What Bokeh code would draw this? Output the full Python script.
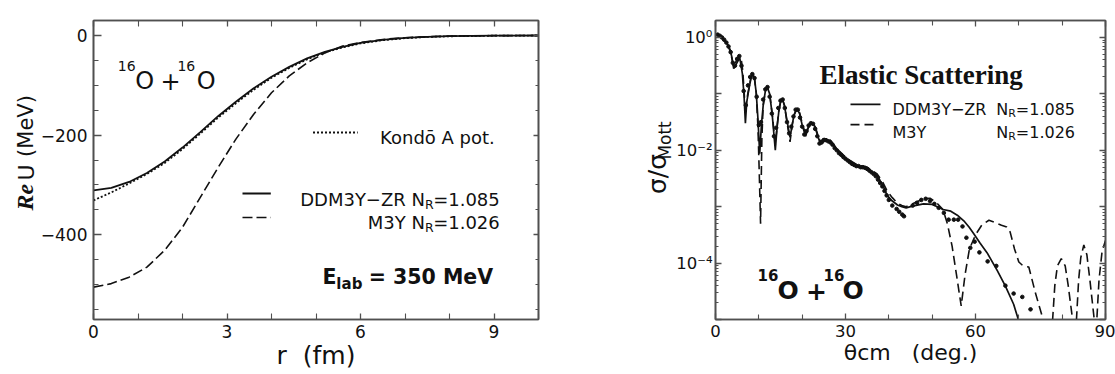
import numpy as np
from bokeh.plotting import figure
from bokeh.models import Range1d, FixedTicker, LinearAxis, LogAxis, Label
from bokeh.layouts import row
from bokeh.embed import file_html
from bokeh.resources import INLINE

# ---------------- left panel: Re U(r) ----------------
r_fm = [0.0, 0.4, 0.8, 1.2, 1.6, 2.0, 2.4, 2.8, 3.2, 3.6, 4.0,
        4.4, 4.8, 5.2, 5.6, 6.0, 6.5, 7.0, 7.5, 8.0, 9.0, 10.0]
reU_ddm3y = [-311, -306, -294, -276, -253, -225, -194, -162, -133, -106, -83,
             -63, -46, -33, -23, -15, -9, -5, -2.8, -1.5, -0.4, -0.1]
reU_m3y = [-505, -498, -485, -465, -431, -385, -325, -265, -208, -158, -115,
           -81, -55, -35, -21, -14, -8, -4.5, -2.5, -1.3, -0.35, -0.1]
reU_kondo = [-331, -315, -297, -278, -256, -228, -197, -165, -136, -109, -85,
             -65, -48, -34, -24, -16, -9.5, -5.5, -3.0, -1.7, -0.5, -0.1]

left_xticks = [0, 3, 6, 9]
left_xminor = [1, 2, 4, 5, 7, 8, 10]
left_yticks = [-400, -200, 0]
left_ylabels = ["\u2212400", "\u2212200", "0"]
left_yminor = [-550, -500, -450, -350, -300, -250, -150, -100, -50]

theta_ddm = [0.3, 0.8, 1.5, 2.2, 2.8, 3.4, 3.8, 4.2, 4.6, 5.0,
             5.6, 6.2, 6.6, 6.9, 7.2, 7.7, 8.2, 8.6, 9.0, 9.4,
             9.8, 10.2, 10.6, 11.0, 11.5, 11.9, 12.5, 13.1, 13.8, 14.2,
             14.6, 15.0, 15.4, 15.9, 16.4, 17.2, 17.7, 18.1, 18.8, 19.4,
             20.0, 20.8, 21.3, 21.7, 22.5, 23.0, 23.5, 24.2, 24.8, 25.4,
             26.5, 28.1, 30.4, 32.7, 35.0, 37.3, 38.5, 39.6, 40.8, 42.0,
             43.0, 44.0, 45.0, 46.0, 48.0, 50.0, 51.2, 52.5, 54.3, 55.8,
             57.3, 58.5, 59.6, 61.0, 62.7, 65.0, 66.9, 68.8, 69.6, 70.3,
             71.0]
log_ddm = [0.05, 0.04, 0.0, -0.06, -0.12, -0.22, -0.36, -0.55, -0.50, -0.44,
           -0.36, -0.64, -1.05, -1.52, -1.15, -0.92, -0.72, -0.64, -0.74, -0.98,
           -1.45, -2.06, -1.55, -1.21, -0.95, -0.87, -1.0, -1.38, -2.0, -1.6,
           -1.32, -1.15, -1.09, -1.2, -1.43, -1.77, -1.55, -1.38, -1.26, -1.35,
           -1.55, -1.75, -1.62, -1.55, -1.52, -1.6, -1.72, -1.89, -1.85, -1.83,
           -1.83, -2.0, -2.17, -2.28, -2.31, -2.46, -2.60, -2.80, -2.90, -2.97,
           -3.0, -3.02, -3.0, -2.98, -2.95, -2.96, -3.0, -3.05, -3.08, -3.15,
           -3.25, -3.36, -3.48, -3.64, -3.82, -4.13, -4.41, -4.73, -4.93, -5.1,
           -5.3]

theta_m3y = [0.3, 0.8, 1.5, 2.2, 2.8, 3.4, 3.8, 4.2, 4.6, 5.0,
             5.4, 5.9, 6.3, 6.6, 6.9, 7.2, 7.7, 8.2, 8.6, 9.0,
             9.4, 9.8, 10.1, 10.4, 10.7, 11.0, 11.5, 11.9, 12.5, 13.1,
             13.8, 14.2, 14.6, 15.0, 15.4, 15.9, 16.4, 17.2, 17.7, 18.1,
             18.8, 19.4, 20.0, 20.8, 21.3, 21.7, 22.5, 23.0, 23.5, 24.2,
             24.8, 25.4, 26.5, 28.1, 30.4, 32.7, 35.0, 37.3, 38.5, 39.6,
             40.8, 42.0, 43.0, 44.0, 46.0, 48.0, 49.5, 51.0, 52.5, 53.5,
             54.6, 55.6, 56.7, 57.6, 58.6, 60.0, 61.5, 63.1, 64.5, 66.0,
             67.2, 68.0, 69.0, 70.0, 71.0, 72.3, 73.8, 75.6, 76.7, 77.8,
             78.3, 78.9, 79.8, 80.7, 81.4, 82.4, 82.85, 83.3, 83.8, 84.3,
             85.0, 85.7, 86.4, 87.4, 87.7, 88.0, 88.5, 89.2, 90.0]
log_m3y = [0.05, 0.04, 0.0, -0.06, -0.13, -0.25, -0.38, -0.52, -0.45, -0.38,
           -0.33, -0.36, -0.60, -0.95, -1.35, -1.10, -0.90, -0.70, -0.63, -0.72,
           -0.98, -1.60, -2.40, -3.30, -1.80, -1.20, -0.95, -0.86, -1.0, -1.36,
           -1.90, -1.58, -1.30, -1.14, -1.08, -1.20, -1.45, -1.85, -1.55, -1.38,
           -1.25, -1.33, -1.52, -1.72, -1.62, -1.54, -1.50, -1.58, -1.70, -1.85,
           -1.80, -1.78, -1.82, -1.98, -2.15, -2.26, -2.30, -2.42, -2.55, -2.72,
           -2.84, -2.94, -2.98, -3.00, -2.93, -2.86, -2.85, -2.93, -3.05, -3.30,
           -3.70, -4.20, -4.76, -4.20, -3.75, -3.50, -3.32, -3.24, -3.28, -3.33,
           -3.36, -3.45, -3.75, -3.98, -4.05, -4.07, -4.52, -5.0, -6.0, -5.0,
           -4.4, -4.05, -3.92, -4.05, -4.4, -5.0, -6.0, -5.0, -4.3, -3.9,
           -3.68, -3.85, -4.3, -5.0, -6.0, -5.0, -4.3, -3.8, -3.6]

theta_exp = [0.5, 1.0, 1.5, 2.0, 2.5, 3.0, 3.5, 4.0, 4.5, 5.0,
             5.5, 6.0, 6.5, 7.0, 7.5, 8.0, 8.5, 9.0, 9.5, 10.0,
             10.5, 11.0, 11.5, 12.0, 12.5, 13.0, 13.5, 14.0, 14.5, 15.0,
             15.5, 16.0, 16.5, 17.0, 17.5, 18.0, 18.5, 19.0, 19.5, 20.0,
             20.5, 21.0, 21.5, 22.0, 22.5, 23.0, 23.5, 24.0, 24.5, 25.0,
             25.5, 26.0, 26.5, 27.0, 27.5, 28.0, 28.5, 29.0, 29.5, 30.0,
             30.5, 31.0, 31.5, 32.0, 32.5, 33.0, 33.5, 34.0, 34.5, 35.0,
             35.5, 36.0, 36.5, 37.0, 37.5, 38.0, 38.5, 39.0, 39.5, 40.0,
             40.8, 41.8, 42.4, 43.1, 43.5,
             45.5, 46.5, 47.5, 48.5, 49.5, 50.5, 51.5,
             52.7, 53.8, 55.0, 56.0, 57.0, 57.9, 58.8, 59.8, 60.9, 62.8,
             64.8, 66.9, 68.8, 70.8, 72.7]
log_exp = [0.05, 0.03, 0.0, -0.04, -0.09, -0.16, -0.26, -0.45, -0.50, -0.38,
           -0.33, -0.50, -0.95, -1.20, -0.85, -0.70, -0.65, -0.72, -1.05, -1.55,
           -1.50, -1.10, -0.92, -0.88, -1.05, -1.35, -1.75, -1.60, -1.25, -1.12,
           -1.10, -1.25, -1.50, -1.70, -1.58, -1.40, -1.28, -1.28, -1.42, -1.58,
           -1.72, -1.66, -1.56, -1.52, -1.53, -1.62, -1.75, -1.88, -1.86, -1.82,
           -1.82, -1.84, -1.86, -1.90, -1.96, -2.00, -2.05, -2.08, -2.12, -2.15,
           -2.18, -2.21, -2.24, -2.26, -2.28, -2.28, -2.30, -2.30, -2.31, -2.33,
           -2.36, -2.39, -2.42, -2.46, -2.52, -2.58, -2.64, -2.72, -2.80, -2.88,
           -2.98, -3.04, -3.09, -3.14, -3.17,
           -2.98, -2.93, -2.88, -2.86, -2.90, -2.95, -3.02,
           -3.11, -3.23, -3.23, -3.23, -3.35, -3.55, -3.73, -3.62, -3.81, -3.97,
           -4.05, -4.40, -4.54, -4.60, -4.82]

right_xticks = [0, 30, 60, 90]
right_xminor = [10, 20, 40, 50, 70, 80]
right_yticks = [1.0, 0.1, 0.01, 0.001, 0.0001, 1e-05]
right_ylabels = ["10\u2070", "", "10\u207b\u00b2", "", "10\u207b\u2074", ""]

SANS = "DejaVu Sans"
SERIF = "Liberation Serif"
FRAME = "#505050"
INK = "#111111"
NB = "\u00a0"

# DejaVu Sans advance widths (em)
W = {" ": .318, "(": .390, ")": .390, "+": .838, "\u2212": .838, ".": .318, "/": .337,
     "=": .838, "A": .684, "D": .770, "K": .656, "M": .863, "N": .748, "O": .787,
     "R": .695, "U": .732, "V": .684, "Y": .611, "Z": .685, "a": .613, "d": .635,
     "e": .615, "n": .634, "o": .612, "\u014d": .612, "p": .635, "t": .392,
     "\u03c3": .635, "\u03b8": .612, "c": .550, "m": .974, "g": .635, "f": .352, "r": .411}
for ch in "0123456789":
    W[ch] = .636


def tw(s, size):
    return sum(W.get(c, .62) for c in s) * size


def style_axis(ax, ticks, minor, labels=True, font_size="17px", tin=7, min_in=4, standoff=6):
    ax.ticker = FixedTicker(ticks=ticks, minor_ticks=minor)
    ax.axis_line_color = FRAME
    ax.axis_line_width = 1.6
    ax.major_tick_line_color = FRAME
    ax.minor_tick_line_color = FRAME
    ax.major_tick_line_width = 1.3
    ax.minor_tick_line_width = 1.1
    ax.major_tick_in = tin
    ax.major_tick_out = 0
    ax.minor_tick_in = min_in
    ax.minor_tick_out = 0
    ax.axis_label = None
    if labels:
        ax.major_label_text_font = SANS
        ax.major_label_text_font_size = font_size
        ax.major_label_text_color = INK
        ax.major_label_standoff = standoff
    else:
        ax.major_label_text_font_size = "1px"
        ax.major_label_text_color = None
        ax.major_label_standoff = 0


def set_title(ax, text, size):
    ax.axis_label = text
    ax.axis_label_text_font = SANS
    ax.axis_label_text_font_size = f"{size}px"
    ax.axis_label_text_font_style = "normal"
    ax.axis_label_text_color = INK
    ax.axis_label_standoff = 0


def base_fig(**kw):
    p = figure(output_backend="svg", toolbar_location=None, **kw)
    p.xgrid.visible = False
    p.ygrid.visible = False
    p.outline_line_color = FRAME
    p.outline_line_width = 1.6
    p.background_fill_color = "white"
    p.border_fill_color = "white"
    return p


def text_fig(w, h, x0, x1, y0, y1):
    # plain drawing strip for the rotated y titles; data units are page pixels (y upwards)
    p = figure(width=w, height=h, x_range=Range1d(x0, x1), y_range=Range1d(y0, y1),
               output_backend="svg", toolbar_location=None, title=None,
               x_axis_location=None, y_axis_location=None,
               min_border=0, min_border_left=0, min_border_right=0,
               min_border_top=0, min_border_bottom=0)
    p.xgrid.visible = False
    p.ygrid.visible = False
    p.outline_line_color = None
    p.background_fill_color = "white"
    p.border_fill_color = "white"
    return p


def lab(p, pos, text, size, font=SANS, style="normal", align="left", angle=0.0,
        baseline="alphabetic"):
    x, y = pos
    p.add_layout(Label(x=x, y=y, text=text, text_font=font, text_font_size=f"{size}px",
                       text_font_style=style, text_align=align, text_baseline=baseline,
                       angle=angle, text_color=INK))


ang = np.pi / 2
H = 374

# ============ LEFT PANEL ============
YT1_W = 37
L_LEFT, L_TOP, L_W, L_H = 90, 20, 448, 299
p1 = base_fig(width=560 - YT1_W, height=H, x_range=Range1d(0, 10), y_range=Range1d(-570, 30),
              min_border_left=L_LEFT - YT1_W, min_border_right=560 - L_LEFT - L_W,
              min_border_top=L_TOP, min_border_bottom=H - L_TOP - L_H)


def d1(px, py):
    return ((px - L_LEFT) / L_W * 10.0, 30.0 - (py - L_TOP) / L_H * 600.0)


style_axis(p1.xaxis[0], left_xticks, left_xminor, tin=6, min_in=6, standoff=5)
set_title(p1.xaxis[0], "r" + NB + NB + "(fm)", 25)
style_axis(p1.yaxis[0], left_yticks, left_yminor, tin=8, min_in=5, standoff=6)
p1.yaxis[0].major_label_overrides = {t: s for t, s in zip(left_yticks, left_ylabels)}
top1 = LinearAxis()
style_axis(top1, left_xticks, left_xminor, labels=False, tin=6, min_in=6)
p1.add_layout(top1, "above")
right1 = LinearAxis()
style_axis(right1, left_yticks, left_yminor, labels=False, tin=5, min_in=3)
p1.add_layout(right1, "right")

p1.line(r_fm, reU_kondo, line_color=INK, line_width=1.8, line_dash="2 2")
p1.line(r_fm, reU_m3y, line_color=INK, line_width=1.6, line_dash="10 4")
p1.line(r_fm, reU_ddm3y, line_color=INK, line_width=1.8)

# legend samples
(ax0, ay), (ax1, _) = d1(311, 132), d1(356, 132)
p1.line([ax0, ax1], [ay, ay], line_color=INK, line_width=1.8, line_dash="2 2")
(ax0, ay), (ax1, _) = d1(240, 193), d1(268.5, 193)
p1.line([ax0, ax1], [ay, ay], line_color=INK, line_width=1.8)
(ax0, ay), (ax1, _) = d1(240, 217), d1(268.5, 217)
p1.line([ax0, ax1], [ay, ay], line_color=INK, line_width=1.6, line_dash="10 4")

# 16O + 16O
lab(p1, d1(114.5, 65), "16", 14)
lab(p1, d1(132, 80), "O", 24)
lab(p1, d1(157.5, 80), "+", 24)
lab(p1, d1(174.5, 65), "16", 14)
lab(p1, d1(194, 80), "O", 24)

# legend texts (right-aligned)
FS, SS = 18, 12.5
lab(p1, d1(494, 137), "Kond\u014d A pot.", FS, align="right")
for (main, val, base) in [("DDM3Y\u2212ZR N", "=1.085", 199.3), ("M3Y N", "=1.026", 222.3)]:
    right = 499
    x_val = right - tw(val, FS)
    x_sub = x_val - tw("R", SS)
    lab(p1, d1(right, base), val, FS, align="right")
    lab(p1, d1(x_sub, base + 4.2), "R", SS)
    lab(p1, d1(x_sub, base), main, FS, align="right")

# E_lab = 350 MeV
lab(p1, d1(320.5, 276.7), "E", 20.5, style="bold")
lab(p1, d1(320.5 + 0.683 * 20.5, 283.3), "lab", 15, style="bold")
lab(p1, d1(367, 276.7), "= 350 MeV", 20.5, style="bold")

# left y title: rotated pieces centred on (page x, page y)
yt1 = text_fig(YT1_W, H, 0, YT1_W, 0, H)
lab(yt1, (24, H - 221), "Re", 24, font=SERIF, style="bold italic", angle=ang, align="center", baseline="middle")
lab(yt1, (26, H - 190), "U", 22, angle=ang, align="center", baseline="middle")
lab(yt1, (25, H - 132), "(MeV)", 21, angle=ang, align="center", baseline="middle")

# ============ RIGHT PANEL ============
YT2_L, YT2_W = 560, 113
R_LEFT, R_TOP, R_W, R_H = 715, 13, 390, 310
R_FIG_W = 1115 - YT2_L - YT2_W
LTOP = np.log10(2.0)
p2 = base_fig(width=R_FIG_W, height=H, x_range=Range1d(0, 90), y_range=Range1d(1e-5, 2.0),
              y_axis_type="log",
              min_border_left=R_LEFT - YT2_L - YT2_W, min_border_right=1115 - R_LEFT - R_W,
              min_border_top=R_TOP, min_border_bottom=H - R_TOP - R_H)


def d2(px, py):
    th = (px - R_LEFT) / R_W * 90.0
    ly = LTOP - (py - R_TOP) / R_H * (LTOP + 5.0)
    return th, 10.0 ** ly


ymin = [k * 10.0 ** d for d in range(-5, 1) for k in range(2, 10) if k * 10.0 ** d <= 2.0]
style_axis(p2.xaxis[0], right_xticks, right_xminor, font_size="16.5px", tin=6, min_in=5, standoff=5)
set_title(p2.xaxis[0], "\u03b8cm" + NB * 3 + "(deg.)", 22)
style_axis(p2.yaxis[0], right_yticks, ymin, font_size="16.5px", tin=6, min_in=3, standoff=3)
p2.yaxis[0].major_label_overrides = {t: s for t, s in zip(right_yticks, right_ylabels)}
top2 = LinearAxis()
style_axis(top2, right_xticks, right_xminor, labels=False, tin=6, min_in=5)
p2.add_layout(top2, "above")
right2 = LogAxis()
style_axis(right2, right_yticks, ymin, labels=False, tin=6, min_in=3)
p2.add_layout(right2, "right")

p2.line(theta_m3y, 10.0 ** np.array(log_m3y), line_color=INK, line_width=1.6, line_dash="9 5")
p2.line(theta_ddm, 10.0 ** np.array(log_ddm), line_color=INK, line_width=1.7)
p2.scatter(theta_exp, 10.0 ** np.array(log_exp), size=3.6, color=INK)

# Elastic Scattering
lab(p2, d2(819, 70), "Elastic Scattering", 27, font=SERIF, style="bold")

# legend
(bx0, by), (bx1, _) = d2(850, 100), d2(880, 100)
p2.line([bx0, bx1], [by, by], line_color=INK, line_width=1.7)
(bx0, by), (bx1, _) = d2(850, 121), d2(876, 121)
p2.line([bx0, bx1], [by, by], line_color=INK, line_width=1.6, line_dash="9 5")
FS2, SS2 = 16, 11
for (name, val, base) in [("DDM3Y\u2212ZR", "=1.085", 105), ("M3Y", "=1.026", 129)]:
    right = 1074.5
    x_val = right - tw(val, FS2)
    x_sub = x_val - tw("R", SS2)
    lab(p2, d2(892, base), name, FS2)
    lab(p2, d2(right, base), val, FS2, align="right")
    lab(p2, d2(x_sub, base + 4), "R", SS2)
    lab(p2, d2(x_sub, base), "N", FS2, align="right")

# 16O + 16O (bold)
lab(p2, d2(757, 277), "16", 15, style="bold")
lab(p2, d2(777, 293), "O", 25, style="bold")
lab(p2, d2(805.5, 293), "+", 25, style="bold")
lab(p2, d2(823, 277), "16", 15, style="bold")
lab(p2, d2(842, 293), "O", 25, style="bold")

# right y title: rotated pieces centred on (page x, page y)
yt2 = text_fig(YT2_W, H, YT2_L, YT2_L + YT2_W, 0, H)
lab(yt2, (657, H - 192), "\u03c3/\u03c3", 25, angle=ang, align="center", baseline="middle")
lab(yt2, (664, H - 150), "Mott", 17, angle=ang, align="center", baseline="middle")

layout = row(yt1, p1, yt2, p2)
open("out.html", "w").write(file_html(layout, INLINE))
